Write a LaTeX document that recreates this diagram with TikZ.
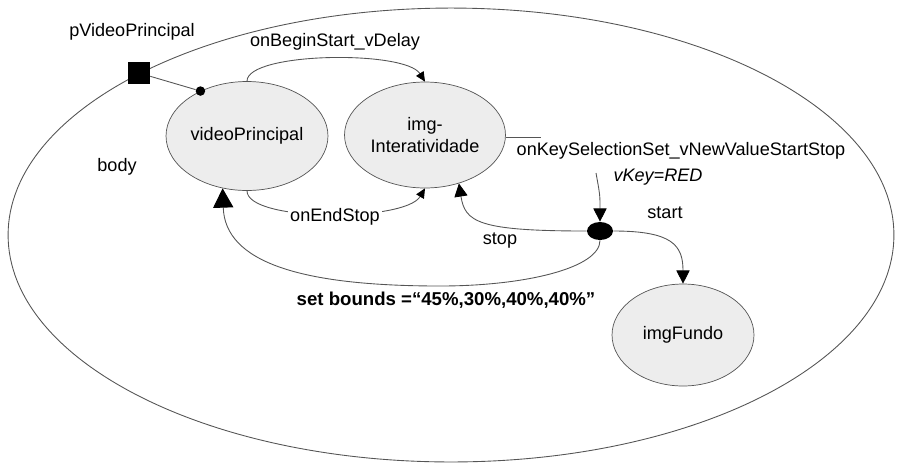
\documentclass[tikz,border=0pt]{standalone}
\usepackage{fontspec}
\setmainfont{Liberation Sans}
\usetikzlibrary{arrows.meta, shapes.geometric}

\definecolor{linegray}{RGB}{85,85,85}
\definecolor{mediafill}{RGB}{237,237,237}

\begin{document}
\begin{tikzpicture}[
    x=0.02cm, y=-0.02cm, % one unit per pixel, y runs downwards
    font=\fontsize{10.3}{12}\selectfont,
    media/.style={ellipse, draw=linegray, fill=mediafill, inner sep=0pt, align=center}, % media objects
    link/.style={draw=linegray, line width=0.5pt}, % links between objects
    tipS/.style={-{Triangle[length=5.5pt, width=5pt, black]}}, % small arrow head
    tipM/.style={-{Triangle[length=7.5pt, width=7.5pt, black]}}, % medium arrow head
    tipL/.style={-{Triangle[length=11pt, width=11.5pt, black]}}, % large arrow head
    lbl/.style={inner sep=1pt} % plain text labels
]
    \useasboundingbox (0,0) rectangle (898,464);

    % Context body
    \node[ellipse, draw=linegray, line width=0.5pt, minimum width=17.72cm, minimum height=9.08cm] (body) at (451,235) {};
    \node[lbl] (bodyLabel) at (117,167) {body};

    % Port of the context
    \node[fill=black, minimum size=0.44cm, inner sep=0pt] (pv) at (139,73) {};
    \node[lbl] (pvLabel) at (132,32) {pVideoPrincipal};

    % Media objects
    \node[media, minimum width=3.24cm, minimum height=2.18cm] (vp) at (247,136) {videoPrincipal};
    \node[media, minimum width=3.22cm, minimum height=2.12cm] (img) at (425,135) {img-\\Interatividade};
    \node[media, minimum width=2.84cm, minimum height=2.04cm] (fd) at (683,335) {imgFundo};

    % Port mapping onto videoPrincipal
    \node[circle, fill=black, inner sep=0pt, minimum size=0.19cm] (vpDot) at (vp.136) {};
    \draw[link] (pv) -- (vpDot);

    % onBeginStart link
    \draw[link, tipS] (vp.north) .. controls (247,52) and (405,50) .. (img.north);
    \node[lbl] (beginLabel) at (335,42) {onBeginStart\_vDelay};

    % onEndStop link
    \draw[link, tipS] (vp.south) .. controls (247,222) and (405,222) .. (img.south);
    \node[lbl, fill=white] (endLabel) at (335,217) {onEndStop};

    % onKeySelection link with its fork
    \node[ellipse, fill=black, inner sep=0pt, minimum width=0.52cm, minimum height=0.36cm] (fork) at (600,231) {};
    \draw[link] (img.-2) -- ++(35,0) coordinate (keyEnd);
    \coordinate (keyStart) at (596,173);
    \draw[link, tipM] (keyStart) .. controls (600,195) .. (fork.north);
    \node[lbl] (keyLabel) at (681,151) {onKeySelectionSet\_vNewValueStartStop};
    \node[lbl] (condLabel) at (658,177) {\itshape vKey=RED};

    % start branch
    \draw[link, tipM] (fork.east) .. controls (672,231) and (683,245) .. (fd.north);
    \node[lbl] (startLabel) at (665,213) {start};

    % stop branch
    \draw[link, tipM] (fork.west) .. controls (478,231) and (465,222) .. (img.-55);
    \node[lbl] (stopLabel) at (500,241) {stop};

    % set bounds branch
    \coordinate (boundsLow) at (440,286);
    \draw[link, tipL] (fork.south) .. controls (600,268) and (525,286) .. (boundsLow)
        .. controls (300,286) and (225,262) .. (vp.245);
    \node[lbl, font=\fontsize{10.6}{12}\selectfont\bfseries] (boundsLabel) at (446,300) {set bounds =“45\%,30\%,40\%,40\%”};

\end{tikzpicture}
\end{document}
